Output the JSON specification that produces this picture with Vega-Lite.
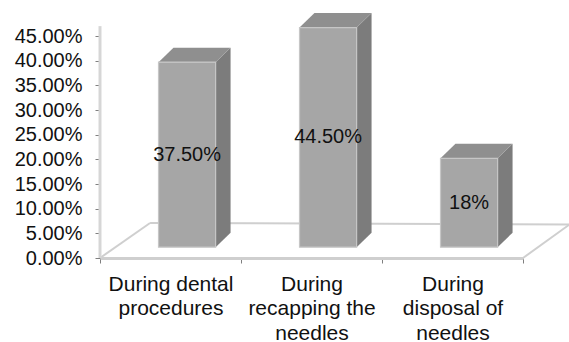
{
  "$schema": "https://vega.github.io/schema/vega-lite/v6.json",
  "width": 423,
  "height": 222,
  "autosize": {"type": "none"},
  "padding": {"left": 100, "top": 36, "right": 46, "bottom": 84},
  "background": "white",
  "config": {
    "view": {"stroke": null},
    "font": "Liberation Sans"
  },
  "data": {"values": [
    {"cat": "During dental procedures", "value": 37.5, "label": "37.50%"},
    {"cat": "During recapping the needles", "value": 44.5, "label": "44.50%"},
    {"cat": "During disposal of needles", "value": 18, "label": "18%"}
  ]},
  "transform": [
    {"window": [{"op": "row_number", "as": "n"}]},
    {"calculate": "datum.n - 1", "as": "i"}
  ],
  "layer": [
    {
      "transform": [
        {"calculate": "datum.i + 0.415", "as": "fx0"},
        {"calculate": "datum.i + 0.82", "as": "fx1"},
        {"calculate": "2.2", "as": "fy0"},
        {"calculate": "2.2 + datum.value", "as": "fy1"}
      ],
      "mark": {"type": "rect", "fill": "#a6a6a6", "opacity": 0},
      "encoding": {
        "x": {"field": "fx0", "type": "quantitative", "scale": {"domain": [0, 3], "nice": false, "zero": false}, "axis": {
          "title": null,
          "values": [0, 0.5, 1, 1.5, 2, 2.5, 3],
          "tickCount": 20,
          "domainColor": "#cfcfcf",
          "domainWidth": 3,
          "tickColor": "#7f7f7f",
          "tickSize": 5,
          "tickOpacity": {"condition": {"test": "datum.value % 1 == 0", "value": 1}, "value": 0},
          "labelExpr": "datum.value == 0.5 ? ['During dental', 'procedures'] : datum.value == 1.5 ? ['During', 'recapping the', 'needles'] : datum.value == 2.5 ? ['During', 'disposal of', 'needles'] : ''",
          "labelFontSize": 21,
          "labelLineHeight": 24.5,
          "labelBaseline": "top",
          "labelPadding": 10,
          "labelColor": "#111111",
          "labelOverlap": false,
          "labelFlush": false,
          "labelBound": false,
          "grid": false
        }},
        "x2": {"field": "fx1"},
        "y": {"field": "fy1", "type": "quantitative", "scale": {"domain": [0, 45], "nice": false, "zero": false}, "axis": {
          "title": null,
          "values": [0, 5, 10, 15, 20, 25, 30, 35, 40, 45],
          "tickCount": 20,
          "labelExpr": "format(datum.value, '.2f') + '%'",
          "domain": false,
          "tickColor": "#7f7f7f",
          "tickSize": 5,
          "labelFontSize": 20,
          "labelPadding": 13,
          "labelColor": "#111111",
          "labelOverlap": false,
          "labelFlush": false,
          "labelBound": false,
          "grid": false
        }},
        "y2": {"field": "fy0"}
      }
    },
    {
      "transform": [{"aggregate": [{"op": "count", "as": "cnt"}]}],
      "mark": {"type": "rule", "color": "#cfcfcf", "strokeWidth": 2},
      "encoding": {
        "x": {"datum": 0, "type": "quantitative"},
        "x2": {"datum": 0.355},
        "y": {"datum": 0, "type": "quantitative"},
        "y2": {"datum": 7.1}
      }
    },
    {
      "transform": [{"aggregate": [{"op": "count", "as": "cnt"}]}],
      "mark": {"type": "rule", "color": "#cfcfcf", "strokeWidth": 2},
      "encoding": {
        "x": {"datum": 0.355, "type": "quantitative"},
        "x2": {"datum": 3.33},
        "y": {"datum": 7.1, "type": "quantitative"},
        "y2": {"datum": 6.8}
      }
    },
    {
      "transform": [{"aggregate": [{"op": "count", "as": "cnt"}]}],
      "mark": {"type": "rule", "color": "#cfcfcf", "strokeWidth": 2},
      "encoding": {
        "x": {"datum": 3, "type": "quantitative"},
        "x2": {"datum": 3.33},
        "y": {"datum": 0, "type": "quantitative"},
        "y2": {"datum": 6.8}
      }
    },
    {
      "transform": [{"aggregate": [{"op": "count", "as": "cnt"}]}],
      "mark": {"type": "rule", "color": "#d6d6d6", "strokeWidth": 3},
      "encoding": {
        "x": {"datum": 0, "type": "quantitative"},
        "y": {"datum": 0, "type": "quantitative"},
        "y2": {"datum": 47}
      }
    },
    {
      "transform": [
        {"calculate": "[0, 1]", "as": "k"},
        {"flatten": ["k"]},
        {"calculate": "datum.i + 0.82 + datum.k * 0.106", "as": "sx"},
        {"calculate": "2.2 + datum.k * 2.94", "as": "sy0"},
        {"calculate": "2.2 + datum.value + datum.k * 2.94", "as": "sy1"}
      ],
      "mark": {"type": "area", "fill": "#7c7c7c", "orient": "vertical"},
      "encoding": {
        "x": {"field": "sx", "type": "quantitative"},
        "y": {"field": "sy1", "type": "quantitative"},
        "y2": {"field": "sy0"},
        "detail": {"field": "cat", "type": "nominal"}
      }
    },
    {
      "transform": [
        {"calculate": "[0, 1]", "as": "k"},
        {"flatten": ["k"]},
        {"calculate": "2.2 + datum.value + datum.k * 2.94", "as": "ty"},
        {"calculate": "datum.i + 0.415 + datum.k * 0.106", "as": "tx0"},
        {"calculate": "datum.i + 0.82 + datum.k * 0.106", "as": "tx1"}
      ],
      "mark": {"type": "area", "fill": "#8f8f8f", "orient": "horizontal"},
      "encoding": {
        "y": {"field": "ty", "type": "quantitative"},
        "x": {"field": "tx0", "type": "quantitative"},
        "x2": {"field": "tx1"},
        "detail": {"field": "cat", "type": "nominal"}
      }
    },
    {
      "transform": [
        {"calculate": "datum.i + 0.415", "as": "fx0"},
        {"calculate": "datum.i + 0.82", "as": "fx1"},
        {"calculate": "2.2", "as": "fy0"},
        {"calculate": "2.2 + datum.value", "as": "fy1"}
      ],
      "mark": {"type": "rect", "fill": "#a6a6a6", "stroke": "#c6c6c6", "strokeWidth": 1.2},
      "encoding": {
        "x": {"field": "fx0", "type": "quantitative"},
        "x2": {"field": "fx1"},
        "y": {"field": "fy1", "type": "quantitative"},
        "y2": {"field": "fy0"}
      }
    },
    {
      "transform": [
        {"calculate": "datum.i + 0.6175", "as": "lx"},
        {"calculate": "2.2 + datum.value / 2", "as": "ly"}
      ],
      "mark": {"type": "text", "fontSize": 20, "color": "#111111", "baseline": "middle", "align": "center"},
      "encoding": {
        "x": {"field": "lx", "type": "quantitative"},
        "y": {"field": "ly", "type": "quantitative"},
        "text": {"field": "label", "type": "nominal"}
      }
    }
  ]
}
